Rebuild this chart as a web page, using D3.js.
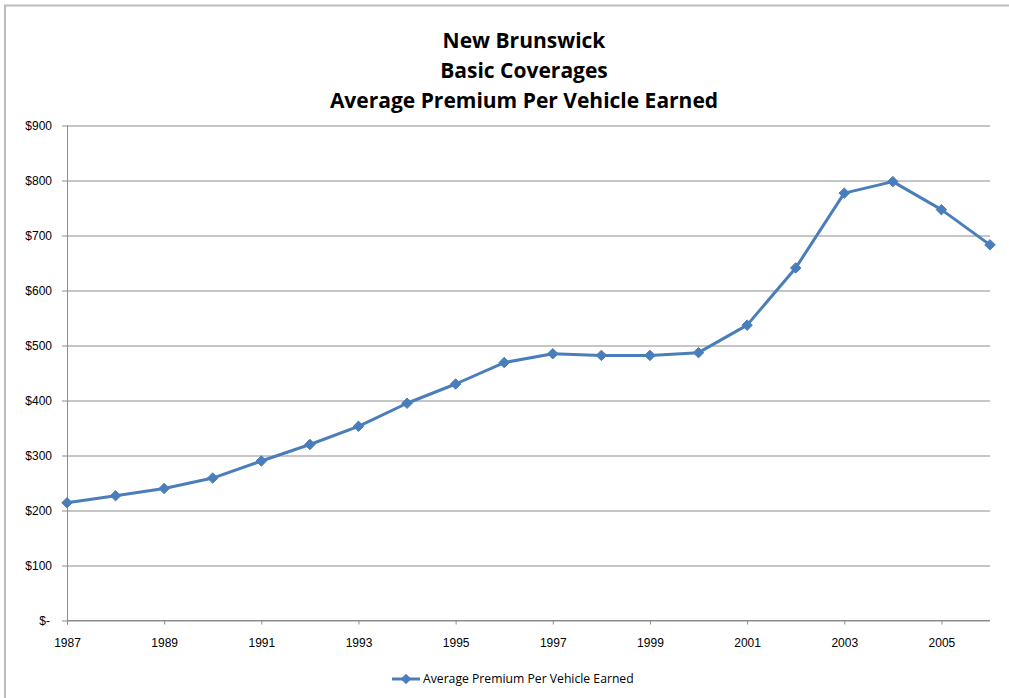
<!DOCTYPE html>
<html>
<head>
<meta charset="utf-8">
<script src="https://cdn.jsdelivr.net/npm/d3@7"></script>
<style>
  body { margin: 0; background: #fff; }
  svg { display: block; font-family: "Open Sans", "Liberation Sans", sans-serif; }
</style>
</head>
<body>
<svg width="1009" height="698"></svg>
<script>
// data
var years = [1987, 1988, 1989, 1990, 1991, 1992, 1993, 1994, 1995, 1996,
             1997, 1998, 1999, 2000, 2001, 2002, 2003, 2004, 2005, 2006];
var premium = [214, 227, 240, 259, 290, 320, 353, 395, 430, 469,
               485, 482, 482, 487, 537, 641, 777, 798, 747, 683];
var yTicks = [0, 100, 200, 300, 400, 500, 600, 700, 800, 900];
var xTickYears = [1987, 1989, 1991, 1993, 1995, 1997, 1999, 2001, 2003, 2005];
var titleLines = ['New Brunswick', 'Basic Coverages', 'Average Premium Per Vehicle Earned'];
var seriesName = 'Average Premium Per Vehicle Earned';

var margin = {top: 125, right: 19, bottom: 78, left: 67};
var width = 1009;
var height = 698;
var blue = '#4a7ebb';

var data = years.map((y, i) => ({year: y, value: premium[i]}));

var svg = d3.select('svg');

// chart frame (only top and left visible)
svg.append('path')
  .attr('d', 'M5,' + height + ' V5.5 H' + width)
  .attr('fill', 'none')
  .attr('stroke', '#bcbcbc')
  .attr('stroke-width', 2);

var xScale = d3.scaleLinear()
  .domain([1987, 2006])
  .range([margin.left, width - margin.right]);

var yScale = d3.scaleLinear()
  .domain([0, 900])
  .range([height - margin.bottom + 0.5, margin.top + 0.5]);

// gridlines + y labels
var yg = svg.append('g')
  .attr('transform', 'translate(' + [xScale.range()[1], 0] + ')')
  .call(d3.axisLeft(yScale)
    .tickValues(yTicks)
    .tickSize(xScale.range()[1] - margin.left + 5)
    .tickPadding(10)
    .tickFormat(d => d === 0 ? '$-' : '$' + d));
yg.select('.domain').remove();
yg.selectAll('.tick line').attr('stroke', '#8c8c8c').attr('stroke-width', 1);
yg.selectAll('.tick text')
  .attr('font-size', 12)
  .attr('fill', '#000')
  .attr('dx', d => d === 0 ? -2 : 0);

// y axis line
svg.append('line')
  .attr('x1', margin.left + 0.5).attr('x2', margin.left + 0.5)
  .attr('y1', yScale(900)).attr('y2', yScale(0) + 4)
  .attr('stroke', '#8c8c8c');

// x axis
var xg = svg.append('g')
  .attr('transform', 'translate(' + [0, yScale(0)] + ')')
  .call(d3.axisBottom(xScale)
    .tickValues(xTickYears)
    .tickSize(4)
    .tickPadding(14)
    .tickFormat(d3.format('d')));
xg.select('.domain').attr('stroke', '#8c8c8c').attr('d', 'M' + margin.left + ',0H' + xScale(2006));
xg.selectAll('.tick line').attr('stroke', '#8c8c8c');
xg.selectAll('.tick text').attr('font-size', 12).attr('fill', '#000');

// line
var line = d3.line()
  .x(d => xScale(d.year))
  .y(d => yScale(d.value));

svg.append('path')
  .datum(data)
  .attr('d', line)
  .attr('fill', 'none')
  .attr('stroke', blue)
  .attr('stroke-width', 3)
  .attr('stroke-linejoin', 'round');

var diamond = d3.symbol().type(d3.symbolDiamond2).size(70);

svg.selectAll('.marker')
  .data(data)
  .enter().append('path')
  .attr('class', 'marker')
  .attr('d', diamond)
  .attr('transform', d => 'translate(' + [xScale(d.year), yScale(d.value)] + ')')
  .attr('fill', blue)
  .attr('stroke', blue);

// title
svg.selectAll('.title')
  .data(titleLines)
  .enter().append('text')
  .attr('class', 'title')
  .attr('x', 524)
  .attr('y', (d, i) => 48 + i * 30)
  .attr('text-anchor', 'middle')
  .attr('font-size', 21)
  .attr('font-weight', 'bold')
  .attr('fill', '#000')
  .text(d => d);

// legend
var lg = svg.append('g').attr('transform', 'translate(392,679)');
lg.append('line')
  .attr('x1', 0).attr('x2', 28)
  .attr('stroke', blue).attr('stroke-width', 3);
lg.append('path')
  .attr('d', diamond)
  .attr('transform', 'translate(14,0)')
  .attr('fill', blue);
lg.append('text')
  .attr('x', 31)
  .attr('y', 4)
  .attr('font-size', 12.2)
  .attr('fill', '#000')
  .text(seriesName);
</script>
</body>
</html>
